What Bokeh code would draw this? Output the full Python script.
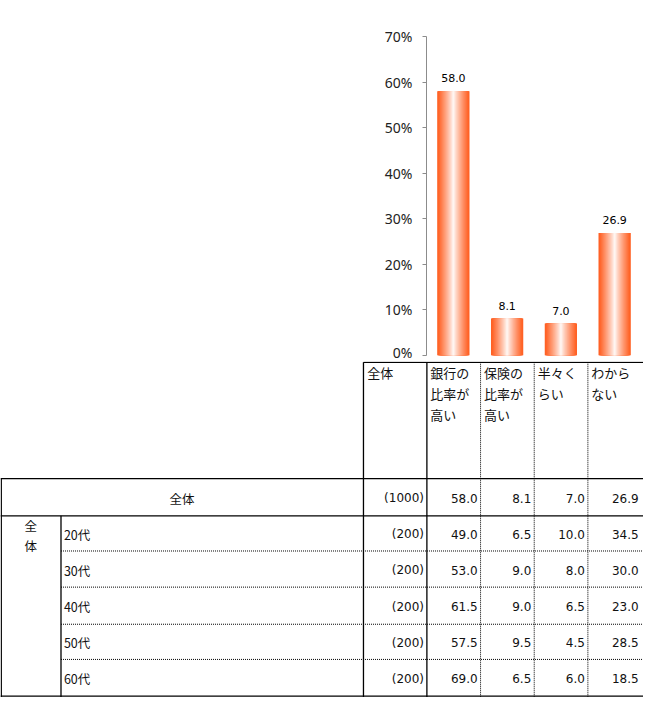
from bokeh.plotting import figure
from bokeh.layouts import column
from bokeh.models import Range1d, FactorRange, FixedTicker, PrintfTickFormatter, ColumnDataSource
from bokeh.core.properties import value
from bokeh.embed import file_html
from bokeh.resources import INLINE

# ---------------- data ----------------
categories = ["銀行の比率が高い", "保険の比率が高い", "半々くらい", "わからない"]
total_label = "全体"
total_n = 1000
total_values = [58.0, 8.1, 7.0, 26.9]
group_label = "全体"
age_labels = ["20代", "30代", "40代", "50代", "60代"]
age_n = [200, 200, 200, 200, 200]
bank_high = [49.0, 53.0, 61.5, 57.5, 69.0]
insurance_high = [6.5, 9.0, 9.0, 9.5, 6.5]
half_half = [10.0, 8.0, 6.5, 4.5, 6.0]
dont_know = [34.5, 30.0, 23.0, 28.5, 18.5]
y_ticks = [0, 10, 20, 30, 40, 50, 60, 70]

# ---------------- layout ----------------
W, H = 643, 697
REF_W, REF_H = 659, 713
HB = 361            # bar chart part height
HT = H - HB         # table part height

JP = value("Noto Sans CJK JP")
NUM = value("DejaVu Sans")

# ---------------- bar chart ----------------
bar = figure(width=W, height=HB, x_range=FactorRange(*categories, range_padding=0),
             y_range=Range1d(0, 70), output_backend="svg", toolbar_location=None,
             min_border_left=426, min_border_right=2, min_border_top=36, min_border_bottom=6,
             outline_line_color=None, background_fill_color="white", border_fill_color="white")
bar.frame_align = False
bar.xaxis.visible = False
bar.xgrid.visible = False
bar.ygrid.visible = False

src = ColumnDataSource(dict(cat=categories, val=total_values,
                            lbl=[f"{v:.1f}" for v in total_values]))

# horizontal gradient (orange edges -> white centre) built from nested bars
orange = (255, 98, 38)
N = 30
bw = 0.6
for k in range(N):
    t = 1 - k / N
    f = min(1.0, t ** 0.85 * 1.05)
    col = tuple(int(round(255 + (c - 255) * f)) for c in orange)
    color = "#%02x%02x%02x" % col
    bar.vbar(x="cat", top="val", width=bw * t, source=src,
             fill_color=color, line_color=None)

bar.text(x="cat", y="val", text="lbl", source=src, text_align="center",
         text_baseline="bottom", y_offset=-9, text_font=NUM,
         text_font_size="11px", text_color="#000000")

ya = bar.yaxis[0]
ya.ticker = FixedTicker(ticks=y_ticks)
ya.formatter = PrintfTickFormatter(format="%d%%")
ya.axis_line_color = "#8c8c8c"
ya.major_tick_line_color = "#8c8c8c"
ya.major_tick_out = 4
ya.major_tick_in = 0
ya.minor_tick_out = 0
ya.minor_tick_in = 0
ya.major_label_standoff = 10
ya.major_label_text_font = "Noto Sans"
ya.major_label_text_font_size = "14px"
ya.major_label_text_color = "#222222"

# ---------------- table ----------------
tab = figure(width=W, height=HT, x_range=Range1d(0, REF_W), y_range=Range1d(REF_H, 369),
             output_backend="svg", toolbar_location=None, x_axis_type=None, y_axis_type=None,
             min_border=0, min_border_left=0, min_border_right=0, min_border_top=0,
             min_border_bottom=0, outline_line_color=None,
             background_fill_color="white", border_fill_color="white")
tab.frame_align = False
tab.xgrid.visible = False
tab.ygrid.visible = False

col_edges = [372, 437, 492, 547, 602, 657]
row_edges = [489, 527, 563, 600, 638, 674, 711.5]
head_top = 369.8
left_col = 62

def seg(L, a, b, c, d):
    L[0].append(a); L[1].append(b); L[2].append(c); L[3].append(d)

# solid lines
S = ([], [], [], [])
seg(S, col_edges[0], head_top, REF_W, head_top)
seg(S, col_edges[0], head_top, col_edges[0], REF_H)
seg(S, col_edges[1], head_top, col_edges[1], REF_H)
seg(S, 0, row_edges[0], REF_W, row_edges[0])
seg(S, 0, row_edges[1], REF_W, row_edges[1])
seg(S, 0, row_edges[-1], REF_W, row_edges[-1])
seg(S, 0.8, row_edges[0], 0.8, REF_H)
seg(S, left_col, row_edges[1], left_col, REF_H)
tab.segment(x0=S[0], y0=S[1], x1=S[2], y1=S[3], line_color="#000000", line_width=1.3)

# dotted lines
D = ([], [], [], [])
for x in col_edges[2:5]:
    seg(D, x, head_top, x, REF_H)
for y in row_edges[2:6]:
    seg(D, left_col, y, REF_W, y)
tab.segment(x0=D[0], y0=D[1], x1=D[2], y1=D[3], line_color="#000000", line_width=1,
            line_dash="1 1")

# header texts
hx, hy, ht = [col_edges[0] + 4], [380], [total_label]
for i, c in enumerate(categories):
    chunks = [c[j:j + 3] for j in range(0, len(c), 3)]
    for r, ch in enumerate(chunks):
        hx.append(col_edges[i + 1] + 3.5)
        hy.append(380 + r * 21.5)
        ht.append(ch)
tab.text(x=hx, y=hy, text=ht, text_align="left", text_baseline="middle",
         text_font=JP, text_font_size="13px", text_color="#111111")

# row labels
row_y = [(row_edges[i] + row_edges[i + 1]) / 2 + 1 for i in range(len(row_edges) - 1)]
tab.text(x=[col_edges[0] / 2], y=[row_y[0]], text=[total_label], text_align="center",
         text_baseline="middle", text_font=JP, text_font_size="12.5px", text_color="#111111")
tab.text(x=[31, 31], y=[537, 557], text=list(group_label), text_align="center",
         text_baseline="middle", text_font=JP, text_font_size="12.5px", text_color="#111111")
tab.text(x=[left_col + 3] * len(age_labels), y=row_y[1:], text=age_labels, text_align="left",
         text_baseline="middle", text_font=JP, text_font_size="12.5px", text_color="#111111")

# numbers
series = [bank_high, insurance_high, half_half, dont_know]
nx, ny, nt = [], [], []
all_n = [total_n] + age_n
for r, n in enumerate(all_n):
    nx.append(col_edges[1] - 3); ny.append(row_y[r]); nt.append(f"({n})")
for i in range(4):
    vals = [total_values[i]] + series[i]
    for r, v in enumerate(vals):
        nx.append(col_edges[i + 2] - 3); ny.append(row_y[r]); nt.append(f"{v:.1f}")
tab.text(x=nx, y=ny, text=nt, text_align="right", text_baseline="middle",
         text_font=NUM, text_font_size="12px", text_color="#111111")

page = column(bar, tab, spacing=0)
open("out.html", "w").write(file_html(page, INLINE))
